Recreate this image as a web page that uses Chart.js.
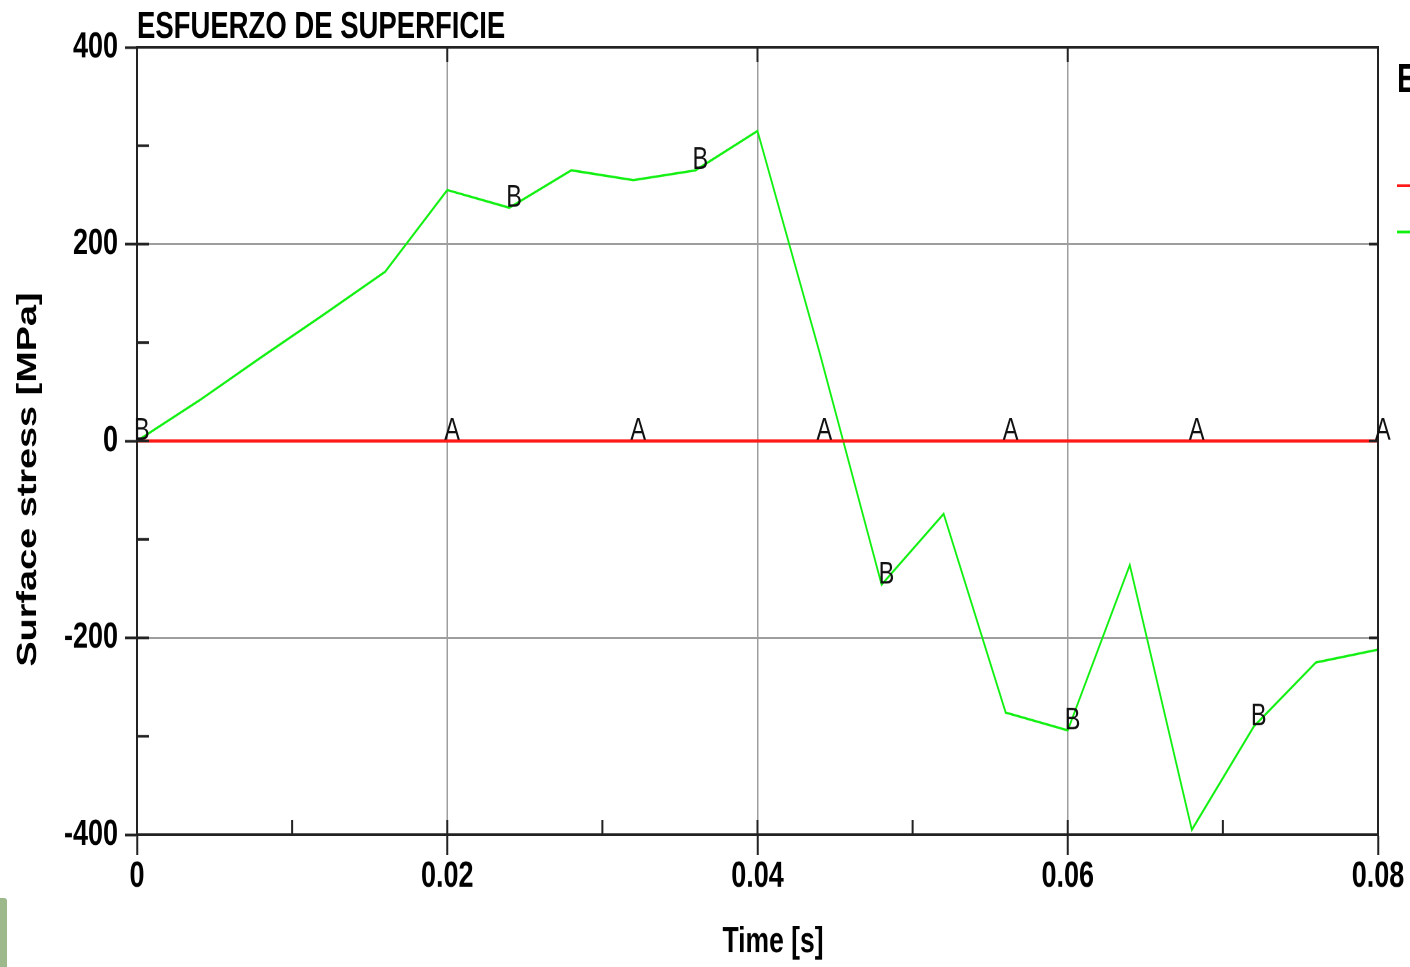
<!DOCTYPE html>
<html>
<head>
<meta charset="utf-8">
<title>Esfuerzo de superficie</title>
<script src="https://cdn.jsdelivr.net/npm/chart.js@4/dist/chart.umd.min.js"></script>
<style>
  html, body { margin: 0; padding: 0; background: #fff; overflow: hidden; }
  body { width: 1410px; height: 967px; position: relative; }
  /* the source image is stretched vertically, so the chart is drawn short and scaled up */
  #wrap { position: absolute; left: 0; top: 0; width: 1410px; height: 716px;
          transform: scaleY(1.3506); transform-origin: 0 0; }
  #tab { position: absolute; left: 0; top: 898px; width: 7px; height: 69px;
         background: #9db88a; border-top-right-radius: 3px; }
</style>
</head>
<body>
<div id="wrap"><canvas id="chart"></canvas></div>
<div id="tab"></div>
<script>
// ── Data ──────────────────────────────────────────────────────────────────
const times    = [0, 0.004, 0.008, 0.012, 0.016, 0.02, 0.024, 0.028, 0.032, 0.036, 0.04,
                  0.044, 0.048, 0.052, 0.056, 0.06, 0.064, 0.068, 0.072, 0.076, 0.08];
const stressA  = [0, 0, 0, 0, 0, 0, 0, 0, 0, 0, 0, 0, 0, 0, 0, 0, 0, 0, 0, 0, 0];
const stressB  = [0, 41, 85, 128, 172, 255, 237, 275, 265, 275, 315,
                  90, -146, -74, -276, -294, -126, -395, -290, -225, -212];
const markersA = [5, 8, 11, 14, 17, 20];    // indices carrying the "A" label
const markersB = [0, 6, 9, 12, 15, 18];     // indices carrying the "B" label

const FONT = '"Liberation Sans", Arial, sans-serif';

const toPoints = vals => vals.map((v, i) => ({ x: times[i], y: v }));

// ── Frame, inner ticks, letters, titles, legend ───────────────────────────
const decor = {
  id: 'decor',
  afterDatasetsDraw(chart) {
    const { ctx, chartArea: a, scales: { x, y } } = chart;
    ctx.save();

    // inner ticks: major on every side, minor on left and bottom
    ctx.strokeStyle = '#222';
    ctx.lineWidth = 2;
    const xs = x.ticks.map(t => t.value);
    const ys = y.ticks.map(t => t.value);
    const mid = arr => arr.slice(1).map((v, i) => (v + arr[i]) / 2);
    ctx.beginPath();
    xs.concat(mid(xs)).forEach((v, i) => {
      const px = x.getPixelForValue(v);
      ctx.moveTo(px, a.bottom); ctx.lineTo(px, a.bottom - 11);
      if (i < xs.length) { ctx.moveTo(px, a.top); ctx.lineTo(px, a.top + 11); }
    });
    ys.concat(mid(ys)).forEach((v, i) => {
      const py = y.getPixelForValue(v);
      ctx.moveTo(a.left, py); ctx.lineTo(a.left + 12, py);
      if (i < ys.length) { ctx.moveTo(a.right, py); ctx.lineTo(a.right - 9, py); }
    });
    ctx.stroke();

    // frame
    ctx.strokeRect(a.left, a.top, a.right - a.left, a.bottom - a.top);

    // curve letters
    ctx.fillStyle = '#111';
    ctx.font = '23.5px ' + FONT;
    ctx.textAlign = 'left';
    ctx.textBaseline = 'alphabetic';
    const label = (dsIndex, idx, txt) => {
      const pt = chart.getDatasetMeta(dsIndex).data[idx];
      ctx.fillText(txt, pt.x - 3, pt.y - 1);
    };
    markersA.forEach(i => label(0, i, 'A'));
    markersB.forEach(i => label(1, i, 'B'));
    ctx.restore();
  },
  afterDraw(chart) {
    const { ctx, chartArea: a } = chart;
    ctx.save();
    ctx.fillStyle = '#000';

    ctx.font = 'bold 27.5px ' + FONT;
    ctx.textAlign = 'left';
    ctx.textBaseline = 'alphabetic';
    ctx.fillText('ESFUERZO DE SUPERFICIE', a.left, 28);

    ctx.font = 'bold 26.5px ' + FONT;
    ctx.textAlign = 'center';
    ctx.fillText('Time [s]', 773, 705);

    ctx.translate(36, 355);
    ctx.rotate(-Math.PI / 2);
    ctx.font = 'bold 28px ' + FONT;
    ctx.fillText('Surface stress [MPa]', 0, 0);
    ctx.restore();

    // legend, mostly beyond the right edge
    ctx.save();
    ctx.font = 'bold 30px ' + FONT;
    ctx.textAlign = 'left';
    ctx.fillStyle = '#000';
    ctx.fillText('Esfuerzo', 1397, 68);
    chart.data.datasets.forEach((ds, i) => {
      const ly = 137.5 + i * 34.3;
      ctx.strokeStyle = ds.borderColor;
      ctx.lineWidth = 2;
      ctx.beginPath(); ctx.moveTo(1397, ly); ctx.lineTo(1440, ly); ctx.stroke();
      ctx.font = '22px ' + FONT;
      ctx.fillText(ds.label, 1446, ly + 8);
    });
    ctx.restore();
  },
};

new Chart(document.getElementById('chart'), {
  type: 'line',
  data: {
    datasets: [
      { label: 'A', data: toPoints(stressA), borderColor: '#ff1a1a', borderWidth: 2.5 },
      { label: 'B', data: toPoints(stressB), borderColor: '#11f011', borderWidth: 1.8 },
    ],
  },
  options: {
    responsive: true, maintainAspectRatio: false,
    devicePixelRatio: 2,
    animation: false,
    layout: { padding: { top: 35, right: 32, left: 0, bottom: 0 } },
    elements: { point: { radius: 0 }, line: { tension: 0 } },
    plugins: { legend: { display: false }, tooltip: { enabled: false } },
    scales: {
      x: {
        type: 'linear', min: 0, max: 0.08,
        afterFit: s => { s.height = 98; },
        border: { color: '#222', width: 2 },
        grid: { color: '#9e9e9e', lineWidth: 1.5, tickColor: '#222', tickWidth: 2, tickLength: 15 },
        ticks: {
          stepSize: 0.02, maxRotation: 0, autoSkip: false, padding: 0, color: '#000',
          font: { family: FONT, weight: 'bold', size: 27 },
          callback: v => String(+v.toFixed(2)),
        },
      },
      y: {
        min: -400, max: 400,
        afterFit: s => { s.width = 137; },
        border: { color: '#222', width: 2 },
        grid: { color: '#9e9e9e', lineWidth: 1.5, tickColor: '#222', tickWidth: 2, tickLength: 12 },
        ticks: {
          stepSize: 200, padding: 7, color: '#000',
          font: { family: FONT, weight: 'bold', size: 27 },
        },
      },
    },
  },
  plugins: [decor],
});
</script>
</body>
</html>
